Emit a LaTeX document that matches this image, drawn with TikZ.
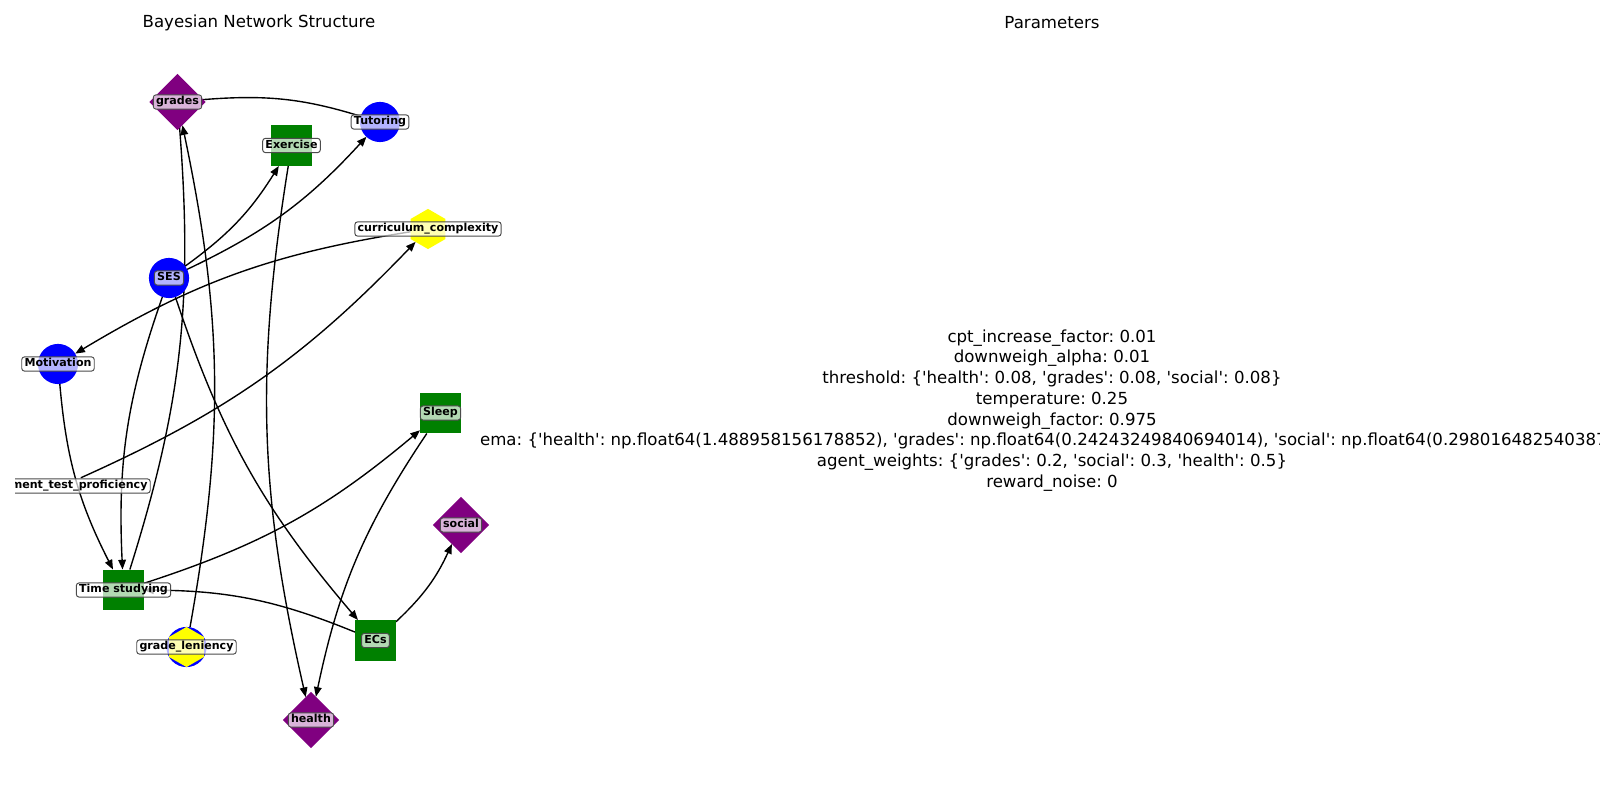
\documentclass[tikz,border=0pt]{standalone}
\usepackage{fontspec}
\newfontfamily\dejavu{DejaVu Sans}
\frenchspacing
\usepackage{tikz}
\usetikzlibrary{arrows.meta, shapes.geometric, backgrounds}
\definecolor{netblue}{RGB}{0,0,255}
\definecolor{netgreen}{RGB}{0,128,0}
\definecolor{netpurple}{RGB}{128,0,128}
\definecolor{netyellow}{RGB}{255,255,0}
\tikzstyle{vertex} = [draw=none, inner sep=0pt, outer sep=0pt]
\tikzstyle{chance} = [vertex, circle, minimum size=10.2mm, fill=netblue]
\tikzstyle{action} = [vertex, rectangle, minimum size=10.4mm, fill=netgreen]
\tikzstyle{goal} = [vertex, diamond, minimum width=14.3mm, minimum height=14.3mm, fill=netpurple]
\tikzstyle{context} = [vertex, regular polygon, regular polygon sides=6, shape border rotate=30, minimum size=10.2mm, fill=netyellow]
\tikzstyle{tag} = [draw=black!70, line width=0.7pt, fill=white, fill opacity=0.7, text opacity=1, rounded corners=2pt, inner xsep=2pt, inner ysep=1.3pt, text height=6pt, text depth=1.7pt, font=\dejavu\bfseries\fontsize{8}{9}\selectfont]
\tikzstyle{link} = [-{Triangle[length=7pt, width=5.5pt]}, line width=1pt, bend right=11]
\tikzstyle{hidden tip} = [shorten >=-4mm]
\tikzstyle{title} = [font=\dejavu\fontsize{12}{14.4}\selectfont]

\begin{document}
\begin{tikzpicture}[x=0.254mm, y=0.254mm]
    \useasboundingbox (0,0) rectangle (1600,800);

    % Nodes.
    \node (grades) [goal] at (177.5,698) {};
    \node (tutoring) [chance] at (380,678) {};
    \node (exercise) [action] at (291.5,654.5) {};
    \node (curriculum) [context] at (428,571) {};
    \node (ses) [chance] at (169,522) {};
    \node (motivation) [chance] at (58,436) {};
    \node (sleep) [action] at (440.5,387) {};
    \node (placement) [vertex, circle, minimum size=10.2mm] at (62.5,314) {};
    \node (social) [goal] at (461,275) {};
    \node (studying) [action] at (123.5,210) {};
    \node (ecs) [action] at (375.5,159.5) {};
    \node (leniency) [chance] at (186.5,153) {};
    \node (leniency top) [context] at (leniency) {};
    \node (health) [goal] at (311,80) {};

    % Labels.
    \node (grades tag) [tag] at (grades) {grades};
    \node (tutoring tag) [tag] at (tutoring) {Tutoring};
    \node (exercise tag) [tag] at (exercise) {Exercise};
    \node (curriculum tag) [tag] at (curriculum) {curriculum\_complexity};
    \node (ses tag) [tag] at (ses) {SES};
    \node (motivation tag) [tag] at (motivation) {Motivation};
    \node (sleep tag) [tag] at (sleep) {Sleep};
    \begin{scope}
        \clip (15,0) rectangle (1600,800);
        \node (placement tag) [tag] at (placement) {placement\_test\_proficiency};
    \end{scope}
    \node (social tag) [tag] at (social) {social};
    \node (studying tag) [tag] at (studying) {Time studying};
    \node (ecs tag) [tag] at (ecs) {ECs};
    \node (leniency tag) [tag] at (leniency) {grade\_leniency};
    \node (health tag) [tag] at (health) {health};

    % Arrows.
    \begin{pgfonlayer}{background}
        \draw [link, hidden tip] (tutoring) to (grades);
        \draw [link] (ses) to (exercise);
        \draw [link] (ses) to (tutoring);
        \draw [link] (ses) to (studying);
        \draw [link] (ses) to (ecs);
        \draw [link] (curriculum) to (motivation);
        \draw [link] (placement) to (curriculum);
        \draw [link] (motivation) to (studying);
        \draw [link, hidden tip] (studying) to (grades);
        \draw [link] (studying) to (sleep);
        \draw [link] (ecs) to (studying);
        \draw [link] (exercise) to (health);
        \draw [link] (sleep) to (health);
        \draw [link] (ecs) to (social);
        \draw [link] (leniency) to (grades);
    \end{pgfonlayer}

    % Titles and parameters.
    \node (network title) [title] at (259,777) {Bayesian Network Structure};
    \node (parameter title) [title] at (1052,777) {Parameters};
    \begin{scope}
        \clip (0,0) rectangle (1600,800);
        \node (parameters) [title, align=center, font=\dejavu\fontsize{12}{15}\selectfont] at (1052,389.5)
            {cpt\_increase\_factor: 0.01\\
             downweigh\_alpha: 0.01\\
             threshold: \{'health': 0.08, 'grades': 0.08, 'social': 0.08\}\\
             temperature: 0.25\\
             downweigh\_factor: 0.975\\
             ema: \{'health': np.float64(1.488958156178852), 'grades': np.float64(0.24243249840694014), 'social': np.float64(0.298016482540387)\}\\
             agent\_weights: \{'grades': 0.2, 'social': 0.3, 'health': 0.5\}\\
             reward\_noise: 0};
    \end{scope}
\end{tikzpicture}
\end{document}
